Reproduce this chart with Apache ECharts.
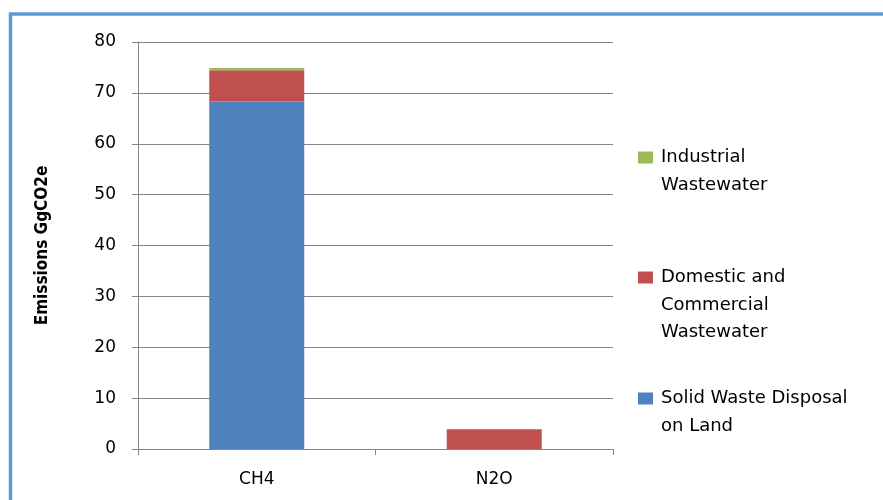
<!DOCTYPE html>
<html>
<head>
<meta charset="utf-8">
<script src="https://cdn.jsdelivr.net/npm/echarts@6/dist/echarts.min.js"></script>
<style>
html,body{margin:0;padding:0;background:#fff;}
#chart{width:883px;height:500px;}
</style>
</head>
<body>
<div id="chart"></div>
<script>
// Data
const categories = ['CH4', 'N2O'];
const seriesNames = ['Solid Waste Disposal on Land', 'Domestic and Commercial Wastewater', 'Industrial Wastewater'];
const solidWaste = [68.3, 0];
const domesticWastewater = [6.15, 3.9];
const industrialWastewater = [0.45, 0];
const legendLines = {
  'Industrial Wastewater': ['Industrial', 'Wastewater'],
  'Domestic and Commercial Wastewater': ['Domestic and', 'Commercial', 'Wastewater'],
  'Solid Waste Disposal on Land': ['Solid Waste Disposal', 'on Land']
};
const yTicks = { min: 0, max: 80, interval: 10 };
const yAxisTitle = 'Emissions GgCO2e';

const colors = ['#4F81BD', '#C0504D', '#9BBB59'];
const values = [solidWaste, domesticWastewater, industrialWastewater];
const LH = 27.5;
const axisColor = '#868686';
const fontFam = '"DejaVu Sans", "Open Sans", sans-serif';

function makeLegend(name, iconCenterY) {
  const lines = legendLines[name];
  const n = lines.length;
  // prepend blank lines so that the first line sits at the icon centre
  const text = new Array(n - 1).fill('').concat(lines).join('\n');
  const total = (2 * n - 1) * LH;
  return {
    data: [{ name: name, icon: 'rect' }],
    left: 638,
    top: iconCenterY - total / 2,
    padding: 0,
    orient: 'vertical',
    itemWidth: 15,
    itemHeight: 12,
    selectedMode: false,
    formatter: () => text,
    textStyle: {
      fontFamily: fontFam,
      fontSize: 18,
      color: '#000',
      lineHeight: LH,
      padding: [0, 0, 0, 3]
    }
  };
}

const chart = echarts.init(document.getElementById('chart'), null, { renderer: 'canvas' });
chart.setOption({
  animation: false,
  backgroundColor: '#fff',
  graphic: [{
    type: 'rect',
    shape: { x: 10.5, y: 14, width: 2000, height: 2000 },
    style: { fill: 'none', stroke: '#5B9BD5', lineWidth: 3.5 },
    silent: true,
    z: -10
  }],
  grid: { left: 138, right: 270, top: 42, bottom: 51, containLabel: false },
  legend: [
    makeLegend('Industrial Wastewater', 157.5),
    makeLegend('Domestic and Commercial Wastewater', 277.5),
    makeLegend('Solid Waste Disposal on Land', 398.5)
  ],
  xAxis: {
    type: 'category',
    data: categories,
    axisLine: { lineStyle: { color: axisColor, width: 1 } },
    axisTick: { show: true, length: 6, alignWithLabel: false, lineStyle: { color: axisColor } },
    axisLabel: { margin: 22, color: '#000', fontFamily: fontFam, fontSize: 17 },
    splitLine: { show: false }
  },
  yAxis: {
    type: 'value',
    min: yTicks.min,
    max: yTicks.max,
    interval: yTicks.interval,
    name: yAxisTitle,
    nameLocation: 'middle',
    nameGap: 87,
    nameRotate: 90,
    nameTextStyle: { fontFamily: '"DejaVu Sans Condensed", "DejaVu Sans", sans-serif', fontWeight: 'bold', fontSize: 17, color: '#000' },
    axisLine: { show: true, lineStyle: { color: axisColor, width: 1 } },
    axisTick: { show: true, length: 6, lineStyle: { color: axisColor } },
    axisLabel: { margin: 22, color: '#000', fontFamily: fontFam, fontSize: 17 },
    splitLine: { show: true, lineStyle: { color: axisColor, width: 1 } }
  },
  series: seriesNames.map((n, i) => ({
    name: n,
    type: 'bar',
    stack: 'total',
    barWidth: 95,
    data: values[i],
    itemStyle: { color: colors[i] }
  }))
});
</script>
</body>
</html>
